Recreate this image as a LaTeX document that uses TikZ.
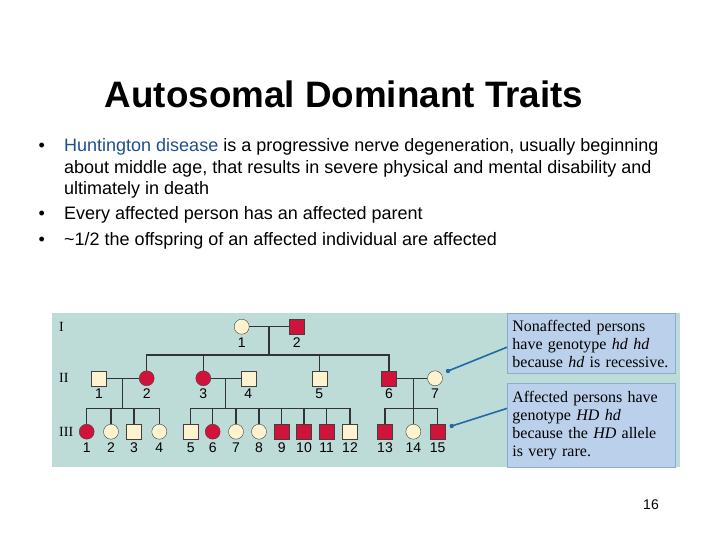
\documentclass[tikz,border=0pt]{standalone}
\usepackage{fontspec}
\setmainfont{Liberation Sans}
\newfontfamily\notefont{Liberation Serif}

\definecolor{panelbg}{HTML}{BDDCD7}
\definecolor{notebg}{HTML}{BBD0EA}
\definecolor{noteline}{HTML}{8FAAD2}
\definecolor{hdred}{HTML}{D0133B}
\definecolor{hdcream}{HTML}{FFF3CF}
\definecolor{linkblue}{HTML}{2468A8}
\definecolor{termblue}{HTML}{1F4E8C}

\begin{document}
\begin{tikzpicture}[
        x=1pt, y=-1pt,
        every node/.style={inner sep=0pt},
        male/.style={
            rectangle,
            draw=black!75,
            fill=hdcream,
            minimum size=15pt
        },
        female/.style={
            circle,
            draw=black!75,
            fill=hdcream,
            minimum size=15pt
        },
        hd/.style={fill=hdred},
        num/.style={font=\fontsize{14}{14}\selectfont, label distance=3pt},
        tag/.style={label={[num]below:#1}},
        gen/.style={font=\notefont\fontsize{14}{14}\selectfont, anchor=west},
        line/.style={draw=black!80, line width=1.1pt},
        body/.style={font=\fontsize{18}{18}\selectfont, anchor=base west},
        bullet/.style={font=\fontsize{18}{18}\selectfont, anchor=base},
        notebox/.style={
            rectangle,
            draw=noteline,
            fill=notebg,
            line width=0.8pt,
            anchor=north west,
            minimum width=168pt,
            text width=158pt,
            align=left,
            inner xsep=5pt,
            font=\notefont\fontsize{16}{18}\selectfont
        },
        link/.style={draw=linkblue, line width=1.6pt}
    ]
    \useasboundingbox (0,0) rectangle (720,540);

    % Title and bullets
    \node[font=\fontsize{36.8}{36.8}\selectfont\bfseries, anchor=base] (title) at (344,108) {Autosomal Dominant Traits};

    \node[bullet] (b1) at (41.7,152) {•};
    \node[bullet] (b2) at (41.7,220) {•};
    \node[bullet] (b3) at (41.7,245) {•};

    \node[body] (t1) at (64,152) {\textcolor{termblue}{Huntington disease} is a progressive nerve degeneration, usually beginning};
    \node[body] (t2) at (64,174) {about middle age, that results in severe physical and mental disability and};
    \node[body] (t3) at (64,195) {ultimately in death};
    \node[body] (t4) at (64,220) {Every affected person has an affected parent};
    \node[body] (t5) at (64,245) {\textasciitilde 1/2 the offspring of an affected individual are affected};

    % Panel
    \fill[panelbg] (52,313) rectangle (680,467);

    \node[gen] (g1) at (59,326.7) {I};
    \node[gen] (g2) at (59,378.3) {II};
    \node[gen] (g3) at (59,431.7) {III};

    % Generation I
    \node[female, tag=1] (i1) at (241.7,326.7) {};
    \node[male, hd, tag=2] (i2) at (296.7,326.7) {};

    % Generation II
    \node[male, tag=1] (ii1) at (99,378.3) {};
    \node[female, hd, tag=2] (ii2) at (146.7,378.3) {};
    \node[female, hd, tag=3] (ii3) at (203.3,378.3) {};
    \node[male, tag=4] (ii4) at (248.3,378.3) {};
    \node[male, tag=5] (ii5) at (319.3,378.3) {};
    \node[male, hd, tag=6] (ii6) at (389,378.3) {};
    \node[female, tag=7] (ii7) at (435,378.3) {};

    % Generation III
    \node[female, hd, tag=1] (iii1) at (86.7,431.7) {};
    \node[female, tag=2] (iii2) at (111,431.7) {};
    \node[male, tag=3] (iii3) at (134,431.7) {};
    \node[female, tag=4] (iii4) at (159.3,431.7) {};
    \node[male, tag=5] (iii5) at (190.7,431.7) {};
    \node[female, hd, tag=6] (iii6) at (212.7,431.7) {};
    \node[female, tag=7] (iii7) at (236,431.7) {};
    \node[female, tag=8] (iii8) at (259,431.7) {};
    \node[male, hd, tag=9] (iii9) at (281.7,431.7) {};
    \node[male, hd, tag=10] (iii10) at (304,431.7) {};
    \node[male, hd, tag=11] (iii11) at (326.7,431.7) {};
    \node[male, tag=12] (iii12) at (350,431.7) {};
    \node[male, hd, tag=13] (iii13) at (385,431.7) {};
    \node[female, tag=14] (iii14) at (413.3,431.7) {};
    \node[male, hd, tag=15] (iii15) at (437.7,431.7) {};

    % Matings and sibships
    \coordinate (m1) at (269,326.7);
    \coordinate (s1) at (269,355);
    \draw[line] (i1) -- (i2);
    \draw[line, line width=1.5pt] (m1) -- (s1);
    \foreach \k in {ii2,ii3,ii5,ii6}
        \draw[line, line width=1.5pt] (\k) |- (s1);

    \coordinate (m2) at (122.7,378.3);
    \coordinate (s2) at (122.7,408.3);
    \draw[line] (ii1) -- (ii2);
    \draw[line] (m2) -- (s2);
    \foreach \k in {iii1,iii2,iii3,iii4}
        \draw[line] (\k) |- (s2);

    \coordinate (m3) at (225.7,378.3);
    \coordinate (s3) at (225.7,408.3);
    \draw[line] (ii3) -- (ii4);
    \draw[line] (m3) -- (s3);
    \foreach \k in {iii5,iii6,iii7,iii8,iii9,iii10,iii11,iii12}
        \draw[line] (\k) |- (s3);

    \coordinate (m4) at (413.3,378.3);
    \coordinate (s4) at (413.3,408.3);
    \draw[line] (ii6) -- (ii7);
    \draw[line] (m4) -- (s4);
    \foreach \k in {iii13,iii14,iii15}
        \draw[line] (\k) |- (s4);

    % Notes
    \node[notebox, minimum height=60pt] (note1) at (507,313.3) {Nonaffected persons\\ have genotype \textit{hd hd}\\ because \textit{hd} is recessive.};
    \node[notebox, minimum height=84pt] (note2) at (507,383) {Affected persons have\\ genotype \textit{HD hd}\\ because the \textit{HD} allele\\ is very rare.};

    \coordinate (d1) at (448,371);
    \coordinate (d2) at (451.7,426);
    \draw[link] ([yshift=-3.5pt]note1.west) -- (d1);
    \draw[link] ([yshift=17pt]note2.west) -- (d2);
    \fill[linkblue] (d1) circle (2.2pt);
    \fill[linkblue] (d2) circle (2.2pt);

    % Page number
    \node[font=\fontsize{14}{14}\selectfont] (page) at (651,505) {16};
\end{tikzpicture}
\end{document}
